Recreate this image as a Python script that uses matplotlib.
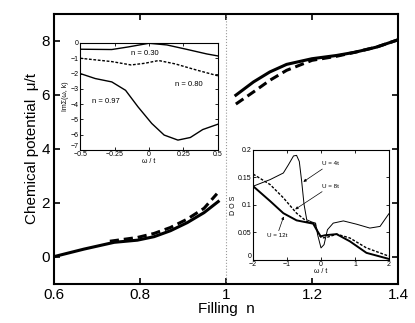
import matplotlib
matplotlib.use("Agg")
import matplotlib.pyplot as plt

plt.rcParams["font.family"] = ["Liberation Sans", "DejaVu Sans"]

# main panel: chemical potential vs filling
n_left = [0.60, 0.67, 0.74, 0.794, 0.833, 0.871, 0.91, 0.949, 0.982]
mu_left_solid = [0.01, 0.29, 0.54, 0.62, 0.75, 0.97, 1.27, 1.64, 2.05]
n_left_dash = [0.73, 0.794, 0.833, 0.871, 0.91, 0.949, 0.979]
mu_left_dash = [0.58, 0.72, 0.87, 1.09, 1.40, 1.80, 2.34]

n_right = [1.023, 1.064, 1.102, 1.141, 1.20, 1.257, 1.30, 1.35, 1.40]
mu_right_solid = [5.99, 6.48, 6.85, 7.13, 7.34, 7.46, 7.58, 7.77, 8.04]
mu_right_dash = [5.66, 6.11, 6.54, 6.91, 7.28, 7.43, 7.58, 7.77, 8.04]

# inset 1: self energy
w_030 = [-0.5, -0.27, -0.15, 0.0, 0.13, 0.27, 0.42, 0.5]
se_030 = [-0.41, -0.43, -0.26, -0.02, -0.13, -0.41, -0.72, -0.85]
w_080 = [-0.5, -0.27, -0.13, -0.03, 0.07, 0.19, 0.34, 0.5]
se_080 = [-1.00, -1.22, -1.44, -1.33, -1.15, -1.37, -1.76, -2.15]
w_097 = [-0.5, -0.39, -0.27, -0.17, -0.08, 0.02, 0.11, 0.21, 0.30, 0.39, 0.5]
se_097 = [-2.00, -2.33, -2.55, -3.10, -4.18, -5.27, -6.03, -6.36, -6.19, -5.67, -5.32]

# inset 2: density of states
w_4t = [-2.0, -1.5, -1.11, -0.96, -0.81, -0.72, -0.64, -0.57, -0.50, -0.42, -0.27,
        -0.16, -0.10, 0.0, 0.09, 0.19, 0.36, 0.66, 1.05, 1.44, 1.74, 2.0]
dos_4t = [0.134, 0.146, 0.158, 0.173, 0.189, 0.190, 0.179, 0.143, 0.101, 0.073, 0.069,
          0.067, 0.046, 0.022, 0.028, 0.055, 0.067, 0.071, 0.065, 0.058, 0.061, 0.084]
w_8t = [-2.0, -1.5, -1.11, -0.72, -0.42, -0.18, -0.08, 0.02, 0.17, 0.46, 0.85, 1.34, 2.0]
dos_8t = [0.156, 0.137, 0.113, 0.085, 0.070, 0.066, 0.047, 0.040, 0.041, 0.047, 0.040,
          0.022, 0.007]
w_12t = [-2.0, -1.5, -1.11, -0.72, -0.23, -0.13, -0.01, 0.12, 0.46, 0.85, 1.34, 2.0]
dos_12t = [0.134, 0.107, 0.085, 0.072, 0.066, 0.055, 0.043, 0.045, 0.047, 0.034,
           0.013, 0.002]

fig = plt.figure(figsize=(4.15, 3.23), dpi=100)
ax = fig.add_axes([0.130, 0.121, 0.829, 0.836])
ax.plot(n_left, mu_left_solid, color="black", lw=2.2)
ax.plot(n_left_dash, mu_left_dash, color="black", lw=2.2, ls=(0, (3, 1.6)))
ax.plot(n_right, mu_right_solid, color="black", lw=2.2)
ax.plot(n_right, mu_right_dash, color="black", lw=2.2, ls=(0, (3, 1.6)))
ax.axvline(1.0, color="#999999", lw=0.8, ls=":")
ax.set_xlim(0.6, 1.4)
ax.set_ylim(-1, 9)
ax.set_xticks([0.6, 0.8, 1.0, 1.2, 1.4])
ax.set_xticklabels(["0.6", "0.8", "1", "1.2", "1.4"])
ax.set_yticks([0, 2, 4, 6, 8])
ax.tick_params(direction="in", top=True, right=True, labelsize=11, length=4, width=1.2, pad=3)
for s in ax.spines.values():
    s.set_linewidth(1.5)
ax.set_xlabel("Filling  n", fontsize=11, labelpad=0)
ax.set_ylabel("Chemical potential  \u03bc/t", fontsize=11, labelpad=2)

# self energy inset
a1 = fig.add_axes([0.193, 0.536, 0.332, 0.331])
a1.plot(w_030, se_030, color="black", lw=1.0)
a1.plot(w_080, se_080, color="black", lw=1.0, ls=(0, (2, 1.2)))
a1.plot(w_097, se_097, color="black", lw=1.0)
a1.set_xlim(-0.5, 0.5)
a1.set_ylim(-7, 0)
a1.set_xticks([-0.5, -0.25, 0, 0.25, 0.5])
a1.set_xticklabels(["\u22120.5", "\u22120.25", "0", "0.25", "0.5"])
a1.set_yticks(range(-7, 1))
a1.tick_params(direction="in", top=True, right=True, labelsize=5, length=2, width=0.6, pad=1)
a1.get_yticklabels()[0].set_va("bottom")
for s in a1.spines.values():
    s.set_linewidth(0.8)
a1.set_xlabel("\u03c9 / t", fontsize=5, labelpad=0)
a1.set_ylabel("Im\u03a3(\u03c9, k)", fontsize=5, labelpad=1)
a1.text(-0.13, -0.67, "n = 0.30", fontsize=5.5, va="center")
a1.text(0.19, -2.74, "n = 0.80", fontsize=5.5, va="center")
a1.text(-0.41, -3.83, "n = 0.97", fontsize=5.5, va="center")

# DOS inset
a2 = fig.add_axes([0.610, 0.195, 0.327, 0.341])
a2.plot(w_4t, dos_4t, color="black", lw=0.7)
a2.plot(w_8t, dos_8t, color="black", lw=1.0, ls=(0, (2, 1.2)))
a2.plot(w_12t, dos_12t, color="black", lw=1.4)
a2.set_xlim(-2, 2)
a2.set_ylim(0, 0.2)
a2.set_xticks([-2, -1, 0, 1, 2])
a2.set_xticklabels(["\u22122", "\u22121", "0", "1", "2"])
a2.set_yticks([0, 0.05, 0.1, 0.15, 0.2])
a2.set_yticklabels(["0", "0.05", "0.1", "0.15", "0.2"])
a2.tick_params(direction="in", top=True, right=True, labelsize=5, length=2, width=0.6, pad=1)
a2.get_yticklabels()[0].set_va("bottom")
for s in a2.spines.values():
    s.set_linewidth(0.8)
a2.set_xlabel("\u03c9 / t", fontsize=5, labelpad=0)
a2.set_ylabel("D O S", fontsize=5, labelpad=1)
arrow = dict(arrowstyle="-|>", lw=0.5, color="black", shrinkA=0, shrinkB=0, mutation_scale=4)
a2.annotate("U = 4t", xy=(-0.52, 0.142), xytext=(0.02, 0.172), fontsize=4.5, arrowprops=arrow)
a2.annotate("U = 8t", xy=(-0.76, 0.092), xytext=(0.02, 0.131), fontsize=4.5, arrowprops=arrow)
a2.annotate("U = 12t", xy=(-1.1, 0.079), xytext=(-1.6, 0.041), fontsize=4.5, arrowprops=arrow)

fig.savefig("out.png", dpi=100)
